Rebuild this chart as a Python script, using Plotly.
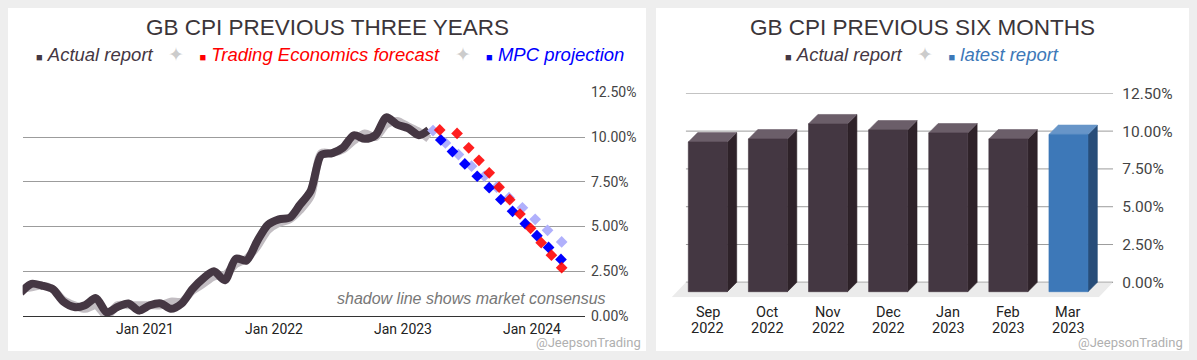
import plotly.graph_objects as go

W, H = 1197, 360

# ---------------- data: left chart (report dates) ----------------
actual_dates = [
    "2020-01-15", "2020-02-15", "2020-03-15", "2020-04-15", "2020-05-15", "2020-06-15",
    "2020-07-15", "2020-08-15", "2020-09-15", "2020-10-15", "2020-11-15", "2020-12-15",
    "2021-01-15", "2021-02-15", "2021-03-15", "2021-04-15", "2021-05-15", "2021-06-15",
    "2021-07-15", "2021-08-15", "2021-09-15", "2021-10-15", "2021-11-15", "2021-12-15",
    "2022-01-15", "2022-02-15", "2022-03-15", "2022-04-15", "2022-05-15", "2022-06-15",
    "2022-07-15", "2022-08-15", "2022-09-15", "2022-10-15", "2022-11-15", "2022-12-15",
    "2023-01-15", "2023-02-15", "2023-03-15",
]
actual_values = [
    1.3, 1.8, 1.7, 1.5, 0.8, 0.5, 0.6, 1.0, 0.2, 0.5, 0.7, 0.3,
    0.6, 0.7, 0.4, 0.7, 1.5, 2.1, 2.5, 2.0, 3.2, 3.1, 4.2, 5.1,
    5.4, 5.5, 6.2, 7.0, 9.0, 9.1, 9.4, 10.1, 9.9, 10.1, 11.1, 10.7,
    10.5, 10.1, 10.4,
]
consensus_values = [
    1.5, 1.6, 1.7, 1.5, 0.9, 0.6, 0.4, 0.6, 0.0, 0.6, 0.6, 0.6,
    0.6, 0.6, 0.8, 0.8, 1.4, 1.8, 2.2, 2.3, 2.9, 3.2, 3.9, 4.8,
    5.2, 5.4, 5.9, 6.7, 9.1, 9.1, 9.3, 9.8, 10.2, 10.0, 10.7, 10.9,
    10.6, 10.3, 9.9,
]

te_dates = ["2023-04-15", "2023-06-03", "2023-07-06", "2023-08-04", "2023-09-02", "2023-09-30",
            "2023-10-30", "2023-11-28", "2023-12-28", "2024-01-27", "2024-02-25", "2024-03-25"]
te_values = [10.4, 10.2, 9.4, 8.7, 8.0, 7.2, 6.5, 5.7, 4.9, 4.1, 3.4, 2.7]

mpc_dates = ["2023-04-18", "2023-05-21", "2023-06-25", "2023-07-30", "2023-09-02", "2023-10-05",
             "2023-11-07", "2023-12-13", "2024-01-15", "2024-02-17", "2024-03-23"]
mpc_values = [9.84, 9.19, 8.5, 7.81, 7.17, 6.51, 5.85, 5.16, 4.49, 3.83, 3.16]

cons_fc_dates = ["2023-03-27", "2023-05-01", "2023-06-07", "2023-07-14", "2023-08-19", "2023-09-23",
                 "2023-10-28", "2023-12-05", "2024-01-10", "2024-02-14", "2024-03-25"]
cons_fc_values = [10.36, 9.67, 9.02, 8.37, 7.81, 7.2, 6.61, 6.05, 5.4, 4.79, 4.14]

left_tick_dates = ["2021-01-01", "2022-01-01", "2023-01-01", "2024-01-01"]
left_tick_text = ["Jan 2021", "Jan 2022", "Jan 2023", "Jan 2024"]

y_ticks = [0, 2.5, 5, 7.5, 10, 12.5]
y_tick_text = ["0.00%", "2.50%", "5.00%", "7.50%", "10.00%", "12.50%"]

# ---------------- data: right chart ----------------
bar_months = ["Sep", "Oct", "Nov", "Dec", "Jan", "Feb", "Mar"]
bar_years = ["2022", "2022", "2022", "2022", "2023", "2023", "2023"]
bar_values = [9.9, 10.1, 11.1, 10.7, 10.5, 10.1, 10.4]
bar_latest = [False, False, False, False, False, False, True]

# ---------------- style ----------------
DARK = "#453743"
TXT = "#3b3539"
TICK = "#444444"
GRID = "#9c9c9c"
TITLE_FONT = "Liberation Sans, Arial, sans-serif"
TICK_FONT = "Roboto, sans-serif"


def fx(px):
    return px / W


def fy(py):
    return 1 - py / H


fig = go.Figure()

# ---- left chart traces ----
fig.add_trace(go.Scatter(x=actual_dates, y=consensus_values, mode="lines",
                         line=dict(color="#c2bdc2", width=8, shape="spline", smoothing=0.8),
                         xaxis="x", yaxis="y", hoverinfo="skip", showlegend=False))
fig.add_trace(go.Scatter(x=actual_dates, y=actual_values, mode="lines",
                         line=dict(color=DARK, width=8, shape="spline", smoothing=0.8),
                         xaxis="x", yaxis="y", showlegend=False))
fig.add_trace(go.Scatter(x=cons_fc_dates, y=cons_fc_values, mode="markers",
                         marker=dict(symbol="diamond", size=9, color="#b0b0fc"),
                         xaxis="x", yaxis="y", showlegend=False, cliponaxis=False))
fig.add_trace(go.Scatter(x=mpc_dates, y=mpc_values, mode="markers",
                         marker=dict(symbol="diamond", size=9, color="#0000ff"),
                         xaxis="x", yaxis="y", showlegend=False, cliponaxis=False))
fig.add_trace(go.Scatter(x=te_dates, y=te_values, mode="markers",
                         marker=dict(symbol="diamond", size=9, color="rgba(255,0,0,0.88)"),
                         xaxis="x", yaxis="y", showlegend=False, cliponaxis=False))

# ---- right chart: pseudo-3D bars ----
HALF_W = 0.3245   # half bar width (category units)
DX = 0.156        # depth offset x (category units)
DY = 0.62         # depth offset y (% units)
X2_LEFT, X2_RIGHT = -0.52, 6.586
FLOOR_DX, FLOOR_DY = 0.238, 0.99

fig.add_trace(go.Scatter(
    x=[X2_LEFT, X2_RIGHT, X2_RIGHT - FLOOR_DX, X2_LEFT - FLOOR_DX, X2_LEFT],
    y=[0, 0, -FLOOR_DY, -FLOOR_DY, 0],
    mode="lines", fill="toself", fillcolor="#ebebeb", line=dict(width=0),
    xaxis="x2", yaxis="y2", hoverinfo="skip", showlegend=False))

palettes = {
    False: {"front": "#443742", "top": "#6b5e69", "side": "#2e2229"},
    True: {"front": "#3d78b8", "top": "#6795c8", "side": "#284d79"},
}
for latest in (False, True):
    faces = {"front": ([], []), "top": ([], []), "side": ([], [])}
    for i, (v, lt) in enumerate(zip(bar_values, bar_latest)):
        if lt != latest:
            continue
        l, r = i - HALF_W, i + HALF_W
        fxs, fys = faces["front"]
        fxs += [l - DX, r - DX, r - DX, l - DX, l - DX, None]
        fys += [-DY, -DY, v - DY, v - DY, -DY, None]
        txs, tys = faces["top"]
        txs += [l - DX, r - DX, r, l, l - DX, None]
        tys += [v - DY, v - DY, v, v, v - DY, None]
        sxs, sys_ = faces["side"]
        sxs += [r - DX, r, r, r - DX, r - DX, None]
        sys_ += [-DY, 0, v, v - DY, -DY, None]
    for face in ("side", "top", "front"):
        xs, ys = faces[face]
        col = palettes[latest][face]
        fig.add_trace(go.Scatter(x=xs, y=ys, mode="lines", fill="toself", fillcolor=col,
                                 line=dict(width=0.6, color=col),
                                 xaxis="x2", yaxis="y2", hoverinfo="skip", showlegend=False))

shapes = []
# white panels
shapes.append(dict(type="rect", xref="paper", yref="paper", x0=fx(8), x1=fx(646), y0=fy(351), y1=fy(8),
                   fillcolor="white", line=dict(width=0), layer="below"))
shapes.append(dict(type="rect", xref="paper", yref="paper", x0=fx(656), x1=fx(1189), y0=fy(351), y1=fy(8),
                   fillcolor="white", line=dict(width=0), layer="below"))
# right chart gridlines
for v in y_ticks:
    shapes.append(dict(type="line", xref="x2", yref="y2", x0=X2_LEFT, x1=X2_RIGHT, y0=v, y1=v,
                       line=dict(color="#333333" if v == 0 else GRID, width=1), layer="below"))

annotations = []
# titles
for cx, title in ((327, "GB CPI PREVIOUS THREE YEARS"), (922.5, "GB CPI PREVIOUS SIX MONTHS")):
    annotations.append(dict(xref="paper", yref="paper", x=fx(cx), y=fy(28), text=title, showarrow=False,
                            xanchor="center", yanchor="middle",
                            font=dict(family=TITLE_FONT, size=22.5, color=TXT)))

NB = "\u00a0"
SEP = f"{NB*3}<span style='color:#cccccc'>✦</span>{NB*3}"


def sq(col):
    return f"<span style='color:{col};font-size:11px'>■</span>{NB}"


left_legend = (sq(DARK) + f"<span style='color:{DARK}'><i>Actual report</i></span>" + SEP +
               sq("#ff0000") + "<span style='color:#ff0000'><i>Trading Economics forecast</i></span>" + SEP +
               sq("#0000ff") + "<span style='color:#0000ff'><i>MPC projection</i></span>")
right_legend = (sq(DARK) + f"<span style='color:{DARK}'><i>Actual report</i></span>" + SEP +
                sq("#3d78b8") + "<span style='color:#3d78b8'><i>latest report</i></span>")
annotations.append(dict(xref="paper", yref="paper", x=fx(330), y=fy(54), text=left_legend, showarrow=False,
                        xanchor="center", yanchor="middle", font=dict(family=TITLE_FONT, size=18.5)))
annotations.append(dict(xref="paper", yref="paper", x=fx(922), y=fy(54), text=right_legend, showarrow=False,
                        xanchor="center", yanchor="middle", font=dict(family=TITLE_FONT, size=18.5)))

# note
annotations.append(dict(xref="paper", yref="paper", x=fx(471), y=fy(298.5),
                        text="<i>shadow line shows market consensus</i>", showarrow=False,
                        xanchor="center", yanchor="middle",
                        font=dict(family=TITLE_FONT, size=16, color="#777777")))
# watermarks
for rx in (643, 1185):
    annotations.append(dict(xref="paper", yref="paper", x=fx(rx), y=fy(342), text="@JeepsonTrading",
                            showarrow=False, xanchor="right", yanchor="middle",
                            font=dict(family=TICK_FONT, size=13, color="#b0b0b0")))
# right chart category labels (two rows)
for i, (m, yr) in enumerate(zip(bar_months, bar_years)):
    for txt, py in ((m, 312.0), (yr, 328.5)):
        annotations.append(dict(xref="x2", yref="paper", x=i - DX, y=fy(py), text=txt, showarrow=False,
                                xanchor="center", yanchor="middle", borderpad=0,
                                font=dict(family=TICK_FONT, size=14.5, color="#222222")))

fig.update_layout(
    width=W, height=H, autosize=False,
    margin=dict(l=0, r=0, t=0, b=0, pad=0, autoexpand=False),
    paper_bgcolor="#eeeeee",
    plot_bgcolor="rgba(0,0,0,0)",
    showlegend=False,
    shapes=shapes,
    annotations=annotations,
    xaxis=dict(domain=[fx(22.7), fx(585)], type="date", range=["2020-01-21", "2024-05-30"],
               tickvals=left_tick_dates, ticktext=left_tick_text, showgrid=False, zeroline=False,
               showline=True, linecolor="#333333", linewidth=1, ticks="",
               tickfont=dict(family=TICK_FONT, size=14, color="#222222"), anchor="y", fixedrange=True),
    yaxis=dict(domain=[fy(316), fy(92.3)], range=[0, 12.5], tickvals=y_ticks, ticktext=y_tick_text,
               side="right", showgrid=True, gridcolor=GRID, gridwidth=1, zeroline=False, ticks="",
               ticklabelstandoff=5, tickfont=dict(family=TICK_FONT, size=14, color=TICK), anchor="x"),
    xaxis2=dict(domain=[fx(671.2), fx(1113.3)], range=[-0.765, 6.59], showticklabels=False,
                showgrid=False, zeroline=False, showline=False, ticks="", anchor="y2"),
    yaxis2=dict(domain=[fy(297.3), fy(93.3)], range=[-0.99, 12.5], tickvals=y_ticks, ticktext=y_tick_text,
                side="right", showgrid=False, zeroline=False, ticks="", ticklabelstandoff=8,
                tickfont=dict(family=TICK_FONT, size=15.5, color=TICK), anchor="x2"),
)

fig.write_html(
    "out.html",
    config={"displayModeBar": False, "responsive": False},
    post_script="document.body.style.margin='0';document.body.style.padding='0';"
                "document.body.style.overflow='hidden';document.documentElement.style.overflow='hidden';",
)
